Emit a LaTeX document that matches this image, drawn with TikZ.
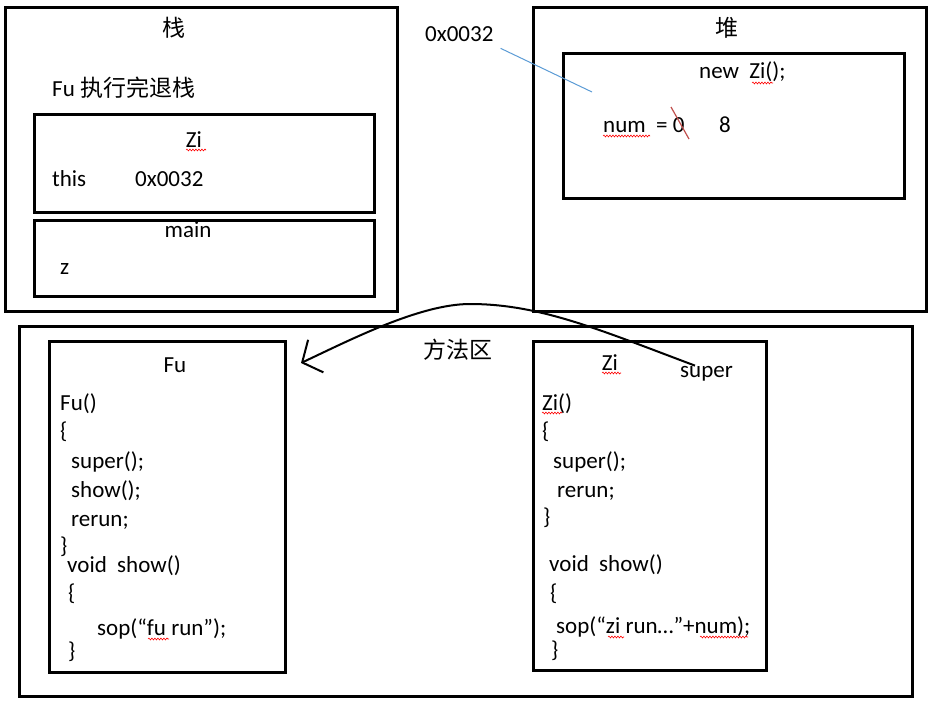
\documentclass[tikz,border=0pt]{standalone}
\usepackage{fontspec}
\setmainfont{Carlito}
\newfontfamily\cjk{Noto Sans CJK SC}
\usetikzlibrary{arrows.meta, decorations.pathmorphing}

\definecolor{refblue}{RGB}{91,155,213}
\definecolor{strikered}{RGB}{192,80,77}

\begin{document}
\begin{tikzpicture}[
  x=1pt, y=-1pt,
  every node/.style={font=\fontsize{23}{27}\selectfont, inner sep=0pt},
  frame/.style={
    rectangle, draw=black, line width=3pt},
  code/.style={anchor=base west},
  title/.style={anchor=base},
  ptr/.style={draw=refblue, line width=1pt},
  curvearr/.style={
    -{Straight Barb[length=15pt,width=36pt]},
    draw=black, line width=2pt},
  squig/.style={
    draw=red, line width=0.6pt,
    decorate, decoration={snake, amplitude=0.9pt, segment length=3pt}},
]
\useasboundingbox (0,0) rectangle (934,706);

\node[frame, minimum width=392pt, minimum height=303pt] (stack) at (201,159.5) {};
\node[frame, minimum width=340pt, minimum height=97pt]  (ziframe) at (204,163.5) {};
\node[frame, minimum width=340pt, minimum height=76pt]  (mainframe) at (204,258) {};

\node (stacktitle) at (174,28) {\cjk 栈};
\node[code] (popnote) at (52,97) {Fu {\cjk 执行完退栈}};
\node[title] (zititle) at (194,147) {Zi};
\node[code] (thisvar) at (52,186) {this};
\node[code] (thisval) at (135,186) {0x0032};
\node[title] (maintitle) at (188,237) {main};
\node[code] (zvar) at (60,274) {z};

\node[frame, minimum width=393pt, minimum height=303pt] (heap) at (729.5,159.5) {};
\node[frame, minimum width=341pt, minimum height=144pt] (ziobj) at (733.5,126) {};

\node (heaptitle) at (727,28) {\cjk 堆};
\node[code] (heapaddr) at (425,42) {0x0032};
\node[code] (newtitle) at (699,79) {new\ \ Zi();};
\node[code] (numvar) at (603,133) {num\ \ = 0};
\node[code] (numnew) at (719,133) {8};

\node[frame, minimum width=893pt, minimum height=370pt] (method) at (465.5,511) {};
\node[frame, minimum width=236pt, minimum height=331pt] (fubox) at (167,506.5) {};
\node[frame, minimum width=233pt, minimum height=329pt] (zibox) at (649.5,505.5) {};

\node (methodtitle) at (458,350) {\cjk 方法区};

\node[title] (futitle) at (175,372) {Fu};
\node[code] (fu1) at (60,410) {Fu()};
\node[code] (fu2) at (60,438) {\{};
\node[code] (fu3) at (71,468) {super();};
\node[code] (fu4) at (71,497) {show();};
\node[code] (fu5) at (71,526) {rerun;};
\node[code] (fu6) at (60,553) {\}};
\node[code] (fu7) at (67,572) {void\ \ show()};
\node[code] (fu8) at (68,600) {\{};
\node[code] (fu9) at (97,635) {sop(“fu run”);};
\node[code] (fu10) at (68,658) {\}};

\node[title] (zibtitle) at (610,370) {Zi};
\node[code] (superlbl) at (680,377) {super};
\node[code] (zi1) at (542,410) {Zi()};
\node[code] (zi2) at (542,438) {\{};
\node[code] (zi3) at (553,468) {super();};
\node[code] (zi4) at (557,497) {rerun;};
\node[code] (zi5) at (543,524) {\}};
\node[code] (zi6) at (549,571) {void\ \ show()};
\node[code] (zi7) at (550,600) {\{};
\node[code] (zi8) at (556,633) {sop(“zi run…”+num);};
\node[code] (zi9) at (551,657) {\}};

\coordinate (objref) at (592,92);
\coordinate (fuhook) at (301,363);

\draw[ptr] ([xshift=7pt,yshift=-6pt]heapaddr.south east) -- (objref);
\draw[strikered, line width=1.2pt] (671,107) -- (689,139);

\draw[curvearr] ([xshift=15pt]superlbl.north west)
  .. controls (600,330) and (540,304) .. (470,304)
  .. controls (420,304) and (350,340) .. (fuhook);

\draw[squig] (186,150) -- (206,150);
\draw[squig] (752,83) -- (773,83);
\draw[squig] (603,136) -- (650,136);
\draw[squig] (148,639) -- (169,639);
\draw[squig] (602,373) -- (621,373);
\draw[squig] (542,413) -- (562,413);
\draw[squig] (608,637) -- (624,637);
\draw[squig] (700,637) -- (748,637);

\end{tikzpicture}
\end{document}
